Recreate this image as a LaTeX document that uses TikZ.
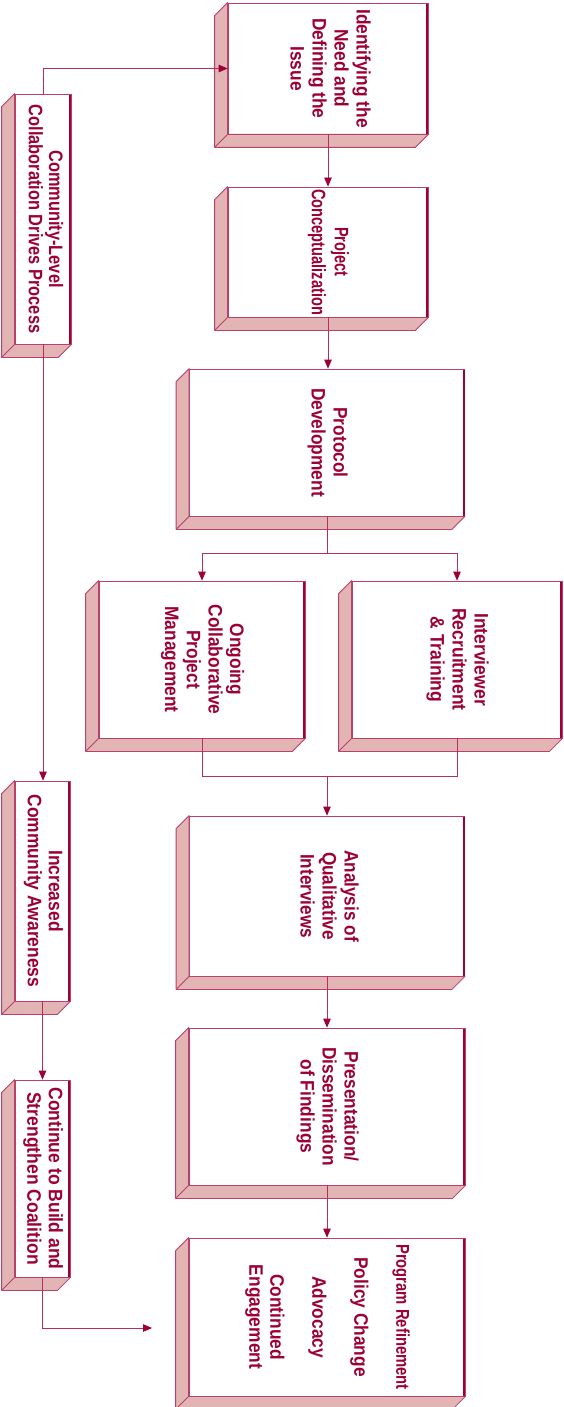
\documentclass[tikz,border=0pt]{standalone}
\usepackage{fontspec}
\setmainfont{Liberation Sans}
\usetikzlibrary{arrows.meta,calc}
\definecolor{BoxEdge}{HTML}{B8406A}
\definecolor{SideFill}{HTML}{E2B4B4}
\definecolor{DeepRed}{HTML}{9C0035}
\definecolor{LinkRed}{HTML}{B3305E}
\newcommand{\rottext}[2][0.89]{\rotatebox{-90}{\scalebox{#1}[1]{\begin{tabular}{@{}c@{}}#2\end{tabular}}}}
\tikzset{
    block/.style = {draw=BoxEdge, fill=white, rectangle, inner sep=0pt,
        text=DeepRed, line width=0.8pt,
        font=\bfseries\fontsize{19.5}{22}\selectfont},
    sideface/.style = {draw=BoxEdge, fill=SideFill, line width=0.8pt, line join=round},
    rimline/.style = {draw=DeepRed, line width=2pt},
    link/.style = {draw=LinkRed, line width=0.8pt},
    arrow/.style = {link, -{Triangle[length=9pt,width=7.5pt,color=DeepRed]}}
}

\begin{document}
\begin{tikzpicture}[x=1pt, y=-1pt]
        \fill[white] (0,0) rectangle (563,1407);
        \useasboundingbox (0,0) rectangle (563,1407);
        \node [block, minimum width=200pt, minimum height=131pt] (ident) at (328,68.5) {\rottext{Identifying the\\Need and\\Defining the\\Issue}};
        \node [block, minimum width=200pt, minimum height=130pt, font=\bfseries\fontsize{19.5}{23}\selectfont] (concept) at (328,252) {\rottext[0.75]{Project\\Conceptualization}};
        \node [block, minimum width=275pt, minimum height=147pt] (protocol) at (327,442.5) {\rottext{Protocol\\Development}};
        \node [block, minimum width=206pt, minimum height=157pt, font=\bfseries\fontsize{19.5}{21.7}\selectfont] (ongoing) at (202,659.5) {\rottext{Ongoing\\Collaborative\\Project\\Management}};
        \node [block, minimum width=210pt, minimum height=157pt] (interv) at (457,659.5) {\rottext[0.9]{Interviewer\\Recruitment\\\& Training}};
        \node [block, minimum width=275pt, minimum height=160pt] (analysis) at (327,896) {\rottext[0.88]{Analysis of\\Qualitative\\Interviews}};
        \node [block, minimum width=276pt, minimum height=157pt] (present) at (327,1106.5) {\rottext{Presentation/\\Dissemination\\of Findings}};
        \node [block, minimum width=276pt, minimum height=158pt, font=\bfseries\fontsize{19.5}{21}\selectfont] (program) at (327,1317) {\rottext{{\fontsize{18.5}{21}\selectfont\scalebox{0.9}[1]{Program Refinement}}\\ \\Policy Change\\ \\Advocacy\\ \\Continued\\Engagement}};
        \node [block, minimum width=56pt, minimum height=250pt, font=\bfseries\fontsize{19.5}{20}\selectfont] (commun) at (43,219) {\rottext[0.84]{Community-Level\\Collaboration Drives Process}};
        \node [block, minimum width=55pt, minimum height=220pt, font=\bfseries\fontsize{19.5}{21}\selectfont] (aware) at (42.5,891) {\rottext[0.895]{Increased\\Community Awareness}};
        \node [block, minimum width=55pt, minimum height=197pt, font=\bfseries\fontsize{19.5}{21.5}\selectfont] (coalit) at (42.5,1178.5) {\rottext[0.9]{Continue to Build and\\Strengthen Coalition}};

        \foreach \n in {ident,concept,protocol,ongoing,interv,analysis,present,program,commun,aware,coalit}{
            \draw [sideface] (\n.north west) -- ++(-13,13) |- ($(\n.south east)+(-13,13)$) -- (\n.south east) -- (\n.south west) -- cycle;
            \draw [sideface] (\n.south west) -- ++(-13,13);
            \draw [rimline] ($(\n.north east)+(-1,1.5)$) -- ($(\n.south east)+(-1,0)$);
        }

        \coordinate (split) at ($(protocol.south)+(0,37)$);
        \coordinate (merge) at ($(analysis.north)+(0,-39)$);
        \coordinate (loose) at (152,1328);

        \draw [arrow] (commun.north) |- (ident.west);
        \draw [arrow] (commun.south) -- (commun.south |- aware.north);
        \draw [arrow] (aware.south) -- (aware.south |- coalit.north);
        \draw [arrow] (coalit.south) |- (loose);
        \draw [arrow] (ident.south) -- (concept.north);
        \draw [arrow] (concept.south) -- (concept.south |- protocol.north);
        \draw [link] (protocol.south) -- (split);
        \draw [arrow] (split) -| (ongoing.north);
        \draw [arrow] (split) -| (interv.north);
        \draw [link] (ongoing.south) |- (merge);
        \draw [link] (interv.south) |- (merge);
        \draw [arrow] (merge) -- (analysis.north);
        \draw [arrow] (analysis.south) -- (present.north);
        \draw [arrow] (present.south) -- (program.north);
\end{tikzpicture}
\end{document}
